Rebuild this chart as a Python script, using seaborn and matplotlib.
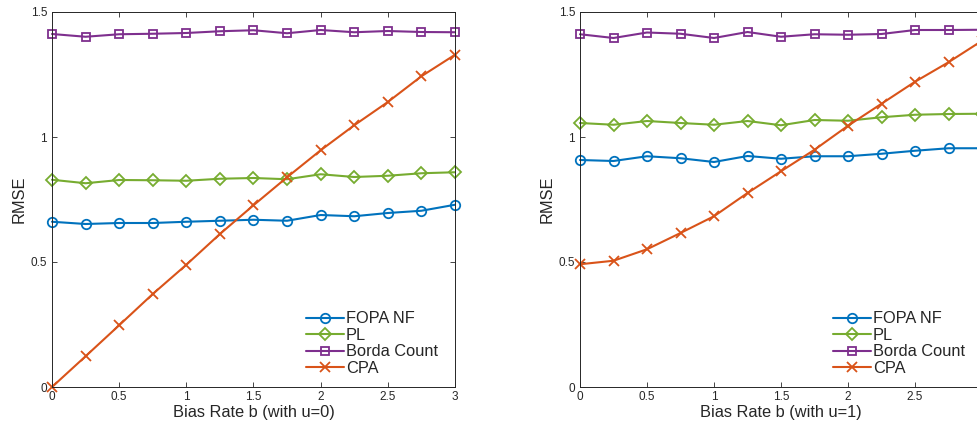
import numpy as np
import pandas as pd
import matplotlib
matplotlib.use("Agg")
import matplotlib.pyplot as plt
import seaborn as sns

# ---- data ----
bias = [0, 0.25, 0.5, 0.75, 1, 1.25, 1.5, 1.75, 2, 2.25, 2.5, 2.75, 3]
series_names = ["FOPA NF", "PL", "Borda Count", "CPA"]

# left panel (u=0)
fopa_u0 = [0.661, 0.652, 0.656, 0.656, 0.661, 0.665, 0.669, 0.665, 0.688, 0.683, 0.696, 0.705, 0.729]
pl_u0 = [0.829, 0.815, 0.828, 0.827, 0.825, 0.833, 0.836, 0.831, 0.851, 0.840, 0.845, 0.855, 0.859]
borda_u0 = [1.412, 1.401, 1.411, 1.413, 1.416, 1.423, 1.427, 1.415, 1.428, 1.419, 1.424, 1.420, 1.419]
cpa_u0 = [0.0, 0.123, 0.247, 0.372, 0.489, 0.612, 0.727, 0.839, 0.947, 1.047, 1.140, 1.243, 1.329]

# right panel (u=1)
fopa_u1 = [0.908, 0.904, 0.923, 0.915, 0.900, 0.924, 0.913, 0.923, 0.923, 0.933, 0.945, 0.955, 0.955]
pl_u1 = [1.056, 1.049, 1.064, 1.056, 1.049, 1.064, 1.047, 1.068, 1.065, 1.079, 1.089, 1.092, 1.093]
borda_u1 = [1.411, 1.396, 1.418, 1.413, 1.396, 1.420, 1.401, 1.411, 1.409, 1.412, 1.428, 1.428, 1.429]
cpa_u1 = [0.491, 0.505, 0.551, 0.616, 0.683, 0.776, 0.863, 0.949, 1.045, 1.133, 1.221, 1.299, 1.385]

xlabels = ["Bias Rate b (with u=0)", "Bias Rate b (with u=1)"]
x_ticks = [0, 0.5, 1, 1.5, 2, 2.5, 3]
x_ticklabels_left = ["0", "0.5", "1", "1.5", "2", "2.5", "3"]
x_ticklabels_right = ["0", "0.5", "1", "1.5", "2", "2.5", ""]  # "3" falls outside the cropped image
y_ticks = [0, 0.5, 1, 1.5]
y_ticklabels = ["0", "0.5", "1", "1.5"]

colors = ["#0072BD", "#77AC30", "#7E2F8E", "#D95319"]
markers = ["o", "D", "s", "x"]
msizes = [6.8, 6.0, 5.2, 7.2]

# ---- style ----
sns.set_theme(style="ticks")
plt.rcParams["font.family"] = ["Liberation Sans", "DejaVu Sans"]
plt.rcParams.update({
    "xtick.direction": "in", "ytick.direction": "in",
    "xtick.top": True, "ytick.right": True,
    "xtick.major.size": 3.5, "ytick.major.size": 3.5,
    "xtick.major.width": 0.6, "ytick.major.width": 0.6,
    "xtick.major.pad": 3.0, "ytick.major.pad": 3.5,
    "axes.linewidth": 0.7,
    "axes.edgecolor": "#262626",
    "xtick.color": "#262626", "ytick.color": "#262626",
})

fig = plt.figure(figsize=(9.78, 4.21), dpi=100)
W, H = 978, 421
ax1 = fig.add_axes([52 / W, (H - 387) / H, 403 / W, 375 / H])
ax2 = fig.add_axes([580 / W, (H - 387) / H, 402 / W, 375 / H])

panels = [
    (ax1, [fopa_u0, pl_u0, borda_u0, cpa_u0], xlabels[0], x_ticklabels_left),
    (ax2, [fopa_u1, pl_u1, borda_u1, cpa_u1], xlabels[1], x_ticklabels_right),
]

for ax, vals, xl, xtl in panels:
    for name, v, c, m, ms in zip(series_names, vals, colors, markers, msizes):
        df = pd.DataFrame({"b": bias, "rmse": v})
        sns.lineplot(data=df, x="b", y="rmse", ax=ax, color=c, linewidth=1.5,
                     marker=m, markersize=ms,
                     markerfacecolor="none", markeredgecolor=c,
                     markeredgewidth=1.3, label=name, clip_on=False)
    ax.set_xlim(0, 3)
    ax.set_ylim(0, 1.5)
    ax.set_xticks(x_ticks)
    ax.set_xticklabels(xtl, fontsize=8.5)
    ax.set_yticks(y_ticks)
    ax.set_yticklabels(y_ticklabels, fontsize=8.5)
    ax.set_xlabel(xl, fontsize=11.8, color="#262626", labelpad=1)
    ax.set_ylabel("RMSE", fontsize=11.8, color="#262626", labelpad=3)
    for s in ax.spines.values():
        s.set_visible(True)
    ax.legend(loc="lower right", frameon=False, fontsize=11.8,
              handlelength=2.3, handletextpad=0.15, labelspacing=0.09,
              borderaxespad=0, borderpad=0,
              bbox_to_anchor=(0.958, 0.03))

fig.savefig("out.png", dpi=100)
